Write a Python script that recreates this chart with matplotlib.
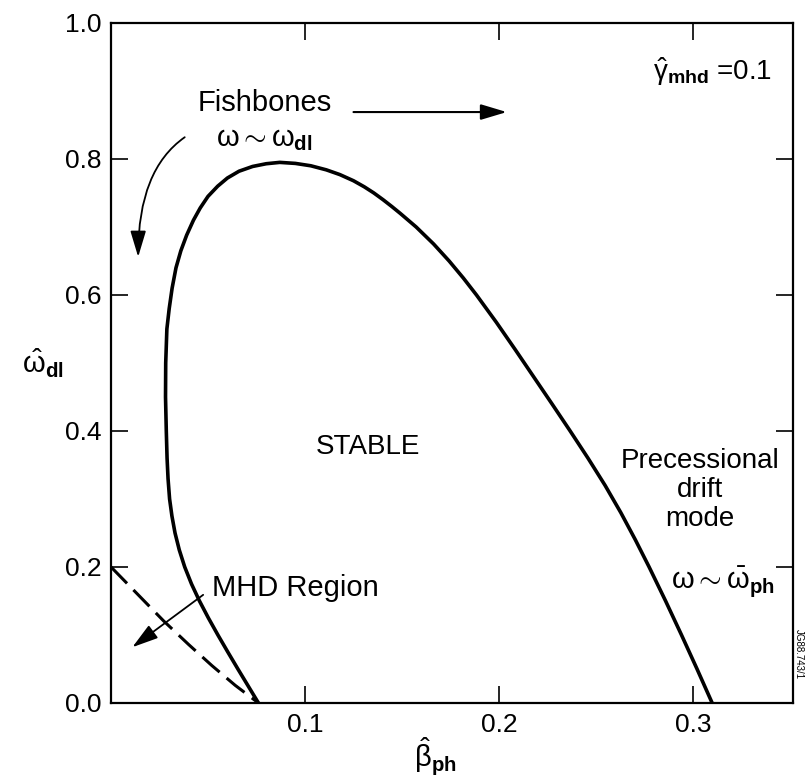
import numpy as np
import matplotlib
matplotlib.use('Agg')
import matplotlib.pyplot as plt

plt.rcParams['font.family'] = ['Liberation Sans', 'DejaVu Sans']
plt.rcParams['mathtext.fontset'] = 'custom'
plt.rcParams['mathtext.rm'] = 'Liberation Sans'
plt.rcParams['mathtext.it'] = 'Liberation Sans'
plt.rcParams['mathtext.bf'] = 'Liberation Sans:bold'

# stability boundary for gamma_mhd = 0.1, traced from the lower left branch
# up over the maximum and down the precessional drift branch
beta_ph = [0.0760, 0.0707, 0.0654, 0.0602, 0.0551, 0.0502, 0.0456, 0.0415,
           0.0380, 0.0352, 0.0330, 0.0314, 0.0302, 0.0294, 0.0289, 0.0285,
           0.0281, 0.0282, 0.0288, 0.0300, 0.0315, 0.0335, 0.0360, 0.0390,
           0.0425, 0.0460, 0.0500, 0.0550, 0.0600, 0.0660, 0.0730, 0.0800,
           0.0870, 0.0950, 0.1030, 0.1110, 0.1180, 0.1250, 0.1306, 0.1355,
           0.1403, 0.1448, 0.1491, 0.1573, 0.1663, 0.1743, 0.1816, 0.1884,
           0.1986, 0.2083, 0.2178, 0.2273, 0.2367, 0.2459, 0.2547, 0.2628,
           0.2703, 0.2774, 0.2859, 0.2941, 0.3021, 0.3099]
omega_dl = [0.000, 0.025, 0.050, 0.075, 0.100, 0.125, 0.150, 0.175,
            0.200, 0.225, 0.250, 0.275, 0.300, 0.330, 0.360, 0.400,
            0.450, 0.500, 0.550, 0.580, 0.610, 0.640, 0.665, 0.688,
            0.710, 0.728, 0.745, 0.760, 0.772, 0.782, 0.789, 0.793,
            0.795, 0.7935, 0.790, 0.784, 0.777, 0.768, 0.759, 0.750,
            0.740, 0.730, 0.720, 0.700, 0.675, 0.650, 0.625, 0.600,
            0.560, 0.520, 0.480, 0.440, 0.400, 0.360, 0.320, 0.280,
            0.240, 0.200, 0.150, 0.100, 0.050, 0.000]

# ideal MHD limit (dashed)
beta_mhd = [0.0, 0.013, 0.027, 0.040, 0.052, 0.064, 0.076]
omega_mhd = [0.2, 0.162, 0.121, 0.086, 0.055, 0.026, 0.0]

gamma_mhd = 0.1
xticks = [0.1, 0.2, 0.3]
yticks = [0.0, 0.2, 0.4, 0.6, 0.8, 1.0]

fig = plt.figure(figsize=(8.05, 7.79), dpi=100)
ax = fig.add_axes([0.1379, 0.0976, 0.847, 0.8729])

ax.plot(beta_ph, omega_dl, color='black', lw=2.6, solid_joinstyle='round')
ax.plot(beta_mhd, omega_mhd, color='black', lw=2.2, dashes=(7.5, 3))

ax.set_xlim(0, 0.3515)
ax.set_ylim(0, 1.0)
ax.set_xticks(xticks)
ax.set_xticklabels(['%.1f' % t for t in xticks])
ax.set_yticks(yticks)
ax.set_yticklabels(['%.1f' % t for t in yticks])
ax.tick_params(direction='in', top=True, right=True, length=12, width=1.2,
               labelsize=19, pad=7)
for s in ax.spines.values():
    s.set_linewidth(1.6)

ax.text(-0.10, 0.5, r'$\hat{\omega}_{\mathbf{dl}}$', transform=ax.transAxes,
        fontsize=21, ha='center', va='center')
ax.text(0.475, -0.079, r'$\hat{\beta}_{\mathbf{ph}}$', transform=ax.transAxes,
        fontsize=21, ha='center', va='center')

ax.text(0.341, 0.928, r'$\hat{\gamma}_{\mathbf{mhd}}$ =%.1f' % gamma_mhd,
        fontsize=20, ha='right', va='center')

arrow = '-|>,head_length=1.0,head_width=0.3'
ax.text(0.079, 0.882, 'Fishbones', fontsize=21, ha='center', va='center')
ax.text(0.079, 0.829, r'$\omega \sim \omega_{\mathbf{dl}}$', fontsize=21,
        ha='center', va='center')
ax.annotate('', xy=(0.204, 0.869), xytext=(0.125, 0.869),
            arrowprops=dict(arrowstyle=arrow, color='black', lw=1.5,
                            mutation_scale=16, shrinkA=0, shrinkB=0))
ax.annotate('', xy=(0.014, 0.656), xytext=(0.038, 0.832),
            arrowprops=dict(arrowstyle=arrow, color='black', lw=1.3,
                            mutation_scale=16, shrinkA=0, shrinkB=0,
                            connectionstyle='angle3,angleA=35,angleB=90'))

ax.text(0.1325, 0.376, 'STABLE', fontsize=20, ha='center', va='center')

ax.text(0.3036, 0.313, 'Precessional\ndrift\nmode', fontsize=20,
        ha='center', va='center', linespacing=1.15)
ax.text(0.3155, 0.178, r'$\omega \sim \bar{\omega}_{\mathbf{ph}}$',
        fontsize=21, ha='center', va='center')

ax.text(0.052, 0.169, 'MHD Region', fontsize=21, ha='left', va='center')
ax.annotate('', xy=(0.011, 0.082), xytext=(0.0475, 0.159),
            arrowprops=dict(arrowstyle=arrow, color='black', lw=1.3,
                            mutation_scale=16, shrinkA=0, shrinkB=0))

fig.text(0.992, 0.16, 'JG88.743/1', fontsize=7, rotation=270,
         ha='center', va='center')

fig.savefig('out.png', dpi=100)
